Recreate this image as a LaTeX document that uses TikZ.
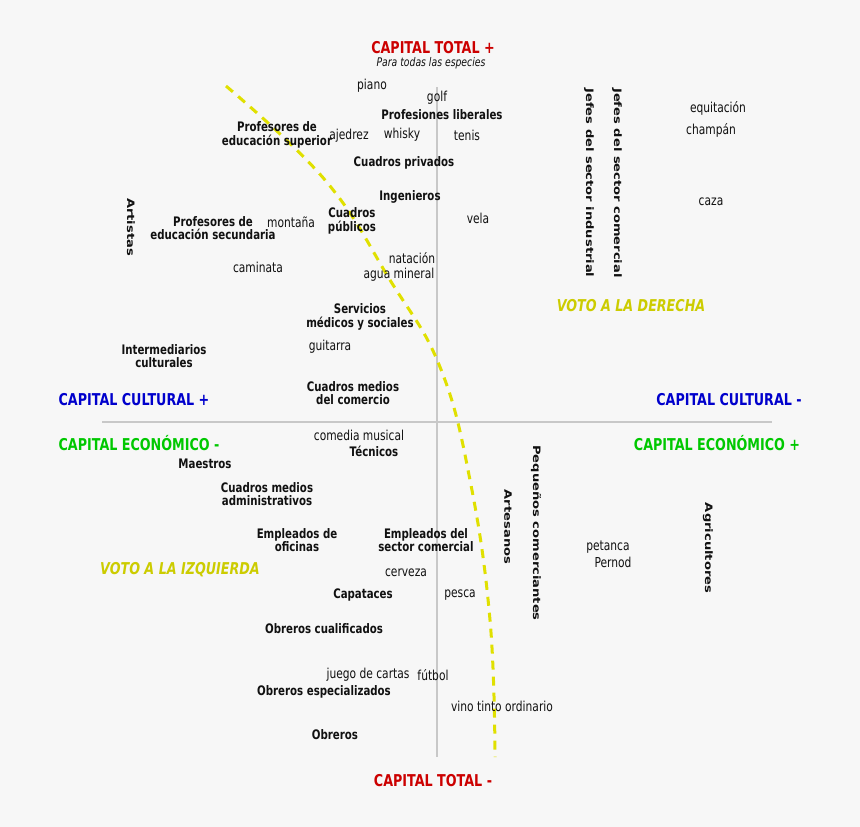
\documentclass[tikz,border=0pt]{standalone}
\usepackage{fontspec}
\setmainfont{DejaVu Sans}
\newfontfamily\apretada{DejaVu Sans}[FakeStretch=0.78]
\newfontfamily\ancha{DejaVu Sans}[FakeStretch=1.28]

\definecolor{fondo}{HTML}{F7F7F7}
\definecolor{eje}{HTML}{C8C8C8}
\definecolor{texto}{HTML}{111111}
\definecolor{rojo}{HTML}{CC0000}
\definecolor{azul}{HTML}{0000CC}
\definecolor{verde}{HTML}{00C800}
\definecolor{voto}{HTML}{CCCC00}
\definecolor{frontera}{HTML}{E0E000}

\tikzset{
  grupo/.style={font=\apretada\fontsize{13.1}{13.4}\selectfont\bfseries, align=center, text=texto, inner sep=0pt},
  vertical/.style={font=\ancha\fontsize{10.2}{11}\selectfont\bfseries, text=texto, inner sep=0pt, rotate=-90},
  gusto/.style={font=\apretada\fontsize{13.7}{14}\selectfont, text=texto, inner sep=0pt},
  capital/.style={font=\apretada\fontsize{16.3}{17}\selectfont\bfseries, inner sep=0pt},
  votolab/.style={font=\apretada\fontsize{16.3}{17}\selectfont\bfseries\itshape, text=voto, inner sep=0pt}
}

\begin{document}
\begin{tikzpicture}[x=1pt,y=-1pt]

  \fill[fondo] (0,0) rectangle (860,827);
  \useasboundingbox (0,0) rectangle (860,827);

  % ejes
  \coordinate (arriba) at (437,87);
  \coordinate (abajo) at (437,757);
  \coordinate (izq) at (102,422);
  \coordinate (der) at (772,422);
  \draw[eje, line width=2pt] (arriba) -- (abajo);
  \draw[eje, line width=2pt] (izq) -- (der);

  % frontera del voto
  \draw[frontera, line width=3pt, dash pattern=on 9pt off 7pt]
    plot[smooth, tension=0.7] coordinates {(226,86) (325,180) (390,280) (440,367)
      (470,480) (490,620) (495,757)};

  % rotulos de los ejes
  \node[capital, text=rojo] (cttop) at (433,48) {CAPITAL TOTAL +};
  \node[font=\apretada\fontsize{11.9}{12}\selectfont\itshape, text=texto, inner sep=0pt] (especies) at (431,63) {Para todas las especies};
  \node[capital, text=rojo] (ctbot) at (433,781) {CAPITAL TOTAL -};
  \node[capital, text=azul] (ccmas) at (134,400) {CAPITAL CULTURAL +};
  \node[capital, text=azul] (ccmenos) at (729,400) {CAPITAL CULTURAL -};
  \node[capital, text=verde] (cemenos) at (139,443) {CAPITAL ECONÓMICO -};
  \node[capital, text=verde] (cemas) at (717,443) {CAPITAL ECONÓMICO +};
  \node[votolab] (derecha) at (631,306) {VOTO A LA DERECHA};
  \node[votolab] (izquierda) at (180,570) {VOTO A LA IZQUIERDA};

  % grupos
  \node[grupo] (liberales) at (442,115) {Profesiones liberales};
  \node[grupo] (superior) at (277,135) {Profesores de\\educación superior};
  \node[grupo] (privados) at (404,163) {Cuadros privados};
  \node[grupo] (ingenieros) at (410,197) {Ingenieros};
  \node[grupo] (publicos) at (352,221) {Cuadros\\públicos};
  \node[grupo] (secundaria) at (213,228) {Profesores de\\educación secundaria};
  \node[vertical] (artistas) at (131,227) {Artistas};
  \node[grupo] (servicios) at (360,317) {Servicios\\médicos y sociales};
  \node[grupo] (intermed) at (164,356) {Intermediarios\\culturales};
  \node[grupo] (comercio) at (353,393) {Cuadros medios\\del comercio};
  \node[grupo] (tecnicos) at (374,451) {Técnicos};
  \node[grupo] (maestros) at (205,464) {Maestros};
  \node[grupo] (admin) at (267,494) {Cuadros medios\\administrativos};
  \node[grupo] (oficinas) at (297,540) {Empleados de\\oficinas};
  \node[grupo] (empcom) at (426,540) {Empleados del\\sector comercial};
  \node[grupo] (capataces) at (363,595) {Capataces};
  \node[grupo] (cualif) at (324,629) {Obreros cualificados};
  \node[grupo] (especial) at (324,692) {Obreros especializados};
  \node[grupo] (obreros) at (335,735) {Obreros};
  \node[vertical] (industrial) at (589,183) {Jefes del sector industrial};
  \node[vertical] (comercial) at (617,183) {Jefes del sector comercial};
  \node[vertical] (artesanos) at (508,527) {Artesanos};
  \node[vertical] (pequenos) at (536,533) {Pequeños comerciantes};
  \node[vertical] (agricultores) at (708,548) {Agricultores};

  % gustos
  \node[gusto] (piano) at (372,86) {piano};
  \node[gusto] (golf) at (437,98) {golf};
  \node[gusto] (ajedrez) at (349,136) {ajedrez};
  \node[gusto] (whisky) at (402,135) {whisky};
  \node[gusto] (tenis) at (467,135) {tenis};
  \node[gusto] (vela) at (478,218) {vela};
  \node[gusto] (montana) at (291,222) {montaña};
  \node[gusto] (caminata) at (258,267) {caminata};
  \node[gusto] (natacion) at (412,258) {natación};
  \node[gusto] (agua) at (399,275) {agua mineral};
  \node[gusto] (guitarra) at (330,347) {guitarra};
  \node[gusto] (comedia) at (359,435) {comedia musical};
  \node[gusto] (cerveza) at (406,573) {cerveza};
  \node[gusto] (pesca) at (460,595) {pesca};
  \node[gusto] (cartas) at (368,675) {juego de cartas};
  \node[gusto] (futbol) at (433,675) {fútbol};
  \node[gusto] (vino) at (502,706) {vino tinto ordinario};
  \node[gusto] (equitacion) at (718,108) {equitación};
  \node[gusto] (champan) at (711,130) {champán};
  \node[gusto] (caza) at (711,202) {caza};
  \node[gusto] (petanca) at (608,547) {petanca};
  \node[gusto] (pernod) at (613,562) {Pernod};

\end{tikzpicture}
\end{document}
